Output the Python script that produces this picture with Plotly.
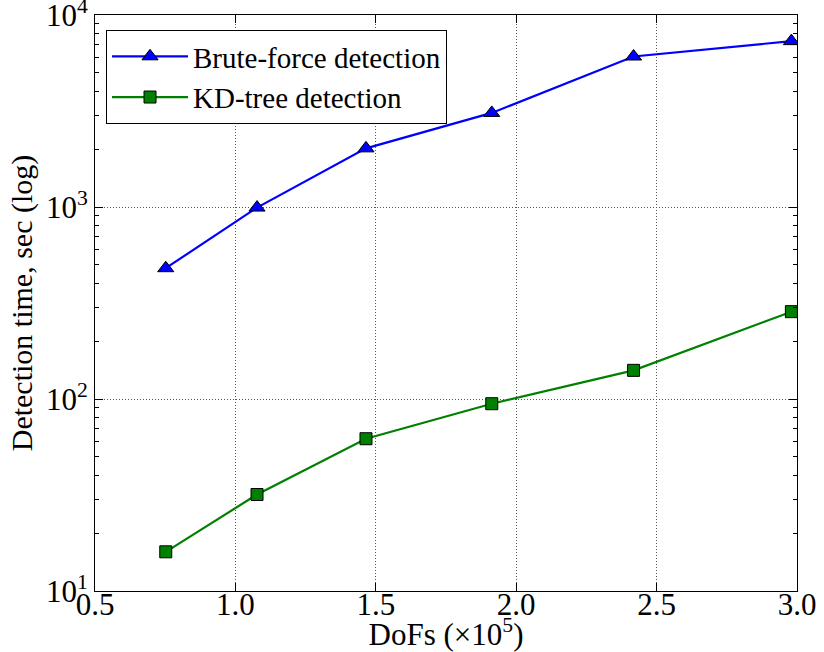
import plotly.graph_objects as go

# Degrees of freedom (in units of 1e5) and detection times in seconds
dofs = [0.752, 1.077, 1.465, 1.913, 2.418, 2.98]
brute_force_sec = [480, 993, 2020, 3090, 6080, 7310]
kd_tree_sec = [16.0, 31.8, 62.1, 94.5, 141, 285]

x_ticks = [0.5, 1.0, 1.5, 2.0, 2.5, 3.0]
x_tick_text = ["0.5", "1.0", "1.5", "2.0", "2.5", "3.0"]
y_ticks = [10, 100, 1000, 10000]
y_tick_text = ["10<sup>1</sup>", "10<sup>2</sup>", "10<sup>3</sup>", "10<sup>4</sup>"]
y_minor = [m * 10 ** e for e in range(1, 4) for m in range(2, 10)]

FONT = "Liberation Serif"

fig = go.Figure()
fig.add_trace(go.Scatter(
    x=dofs, y=brute_force_sec, mode="lines+markers", name="Brute-force detection",
    line=dict(color="#0000ff", width=2.2),
    marker=dict(symbol="triangle-up", size=14, color="#0000ff",
                line=dict(color="black", width=1)),
    cliponaxis=True,
))
fig.add_trace(go.Scatter(
    x=dofs, y=kd_tree_sec, mode="lines+markers", name="KD-tree detection",
    line=dict(color="#008000", width=2.2),
    marker=dict(symbol="square", size=12, color="#008000",
                line=dict(color="black", width=1)),
    cliponaxis=True,
))

axis_common = dict(
    showline=True, linecolor="black", linewidth=1, mirror="allticks",
    ticks="inside", tickcolor="black", ticklen=8, tickwidth=1,
    showgrid=True, gridcolor="#555555", griddash="1px,2px", gridwidth=1,
    zeroline=False, ticklabeloverflow="allow",
    tickfont=dict(family=FONT, size=31, color="black"),
)

fig.update_xaxes(
    range=[0.5, 3.0], tickmode="array", tickvals=x_ticks, ticktext=x_tick_text,
    ticklabelstandoff=-14,
    title=dict(text="DoFs (×10<sup>5</sup>)", font=dict(family=FONT, size=31, color="black"),
               standoff=2),
    **axis_common,
)
fig.update_yaxes(
    type="log", range=[1, 4], tickmode="array", tickvals=y_ticks, ticktext=y_tick_text,
    minor=dict(tickvals=y_minor, ticks="inside", ticklen=4, tickcolor="black",
               showgrid=False),
    title=dict(text="Detection time, sec (log)", font=dict(family=FONT, size=30, color="black"),
               standoff=4),
    **axis_common,
)

fig.update_layout(
    width=824, height=652,
    margin=dict(l=95, r=27, t=15, b=61, autoexpand=False),
    paper_bgcolor="white", plot_bgcolor="white",
    font=dict(family=FONT, color="black"),
    showlegend=True,
    legend=dict(
        x=0.0157, y=0.974, xanchor="left", yanchor="top",
        bordercolor="black", borderwidth=1, bgcolor="white",
        font=dict(family=FONT, size=29, color="black"),
        itemwidth=76, tracegroupgap=0,
    ),
)

fig.write_html("out.html")
